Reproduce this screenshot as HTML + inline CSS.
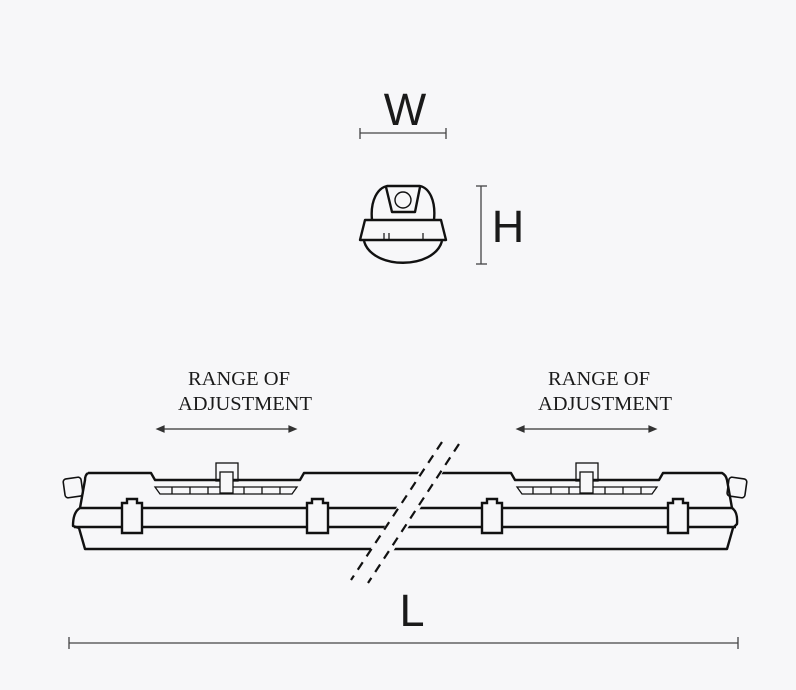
<!DOCTYPE html>
<html><head><style>
html,body{margin:0;padding:0;background:#f7f7f9;}
svg{display:block}
</style></head><body>
<svg width="796" height="690" viewBox="0 0 796 690" xmlns="http://www.w3.org/2000/svg">
<rect width="796" height="690" fill="#f7f7f9"/>
<text x="405" y="125" font-family="Liberation Sans, sans-serif" font-size="45" text-anchor="middle" fill="#1a1a1a">W</text>
<g stroke="#444" stroke-width="1.3">
<line x1="360" y1="133" x2="446" y2="133"/><line x1="360" y1="128" x2="360" y2="139"/><line x1="446" y1="128" x2="446" y2="139"/>
<line x1="481" y1="186" x2="481" y2="264"/><line x1="476" y1="186" x2="487" y2="186"/><line x1="476" y1="264" x2="487" y2="264"/>
<line x1="69" y1="643" x2="738" y2="643"/><line x1="69" y1="637" x2="69" y2="649"/><line x1="738" y1="637" x2="738" y2="649"/>
</g>
<text x="508" y="242" font-family="Liberation Sans, sans-serif" font-size="45" text-anchor="middle" fill="#1a1a1a">H</text>
<text x="412" y="626" font-family="Liberation Sans, sans-serif" font-size="45" text-anchor="middle" fill="#1a1a1a">L</text>
<g fill="none" stroke="#111" stroke-width="2.4" stroke-linejoin="round">
<path d="M372,220 C370,200 378,188 387,186 L420,186 C429,188 436,200 434,220"/>
<path d="M386,187 L392,212 L415,212 L420,187"/>
<circle cx="403" cy="200" r="8" stroke-width="1.4"/>
<path d="M365,220 L441,220 L446,240 L360,240 Z"/>
<path d="M364,241 C372,270 434,270 442,241"/>
</g>
<g stroke="#111" stroke-width="1.2"><line x1="384" y1="233" x2="384" y2="240"/><line x1="389" y1="233" x2="389" y2="240"/><line x1="423" y1="233" x2="423" y2="240"/></g>
<g font-family="Liberation Serif, serif" font-size="20" fill="#1a1a1a" text-anchor="middle">
<text x="239" y="385" textLength="102" lengthAdjust="spacingAndGlyphs">RANGE OF</text><text x="245" y="410" textLength="134" lengthAdjust="spacingAndGlyphs">ADJUSTMENT</text>
<text x="599" y="385" textLength="102" lengthAdjust="spacingAndGlyphs">RANGE OF</text><text x="605" y="410" textLength="134" lengthAdjust="spacingAndGlyphs">ADJUSTMENT</text>
</g>
<g stroke="#333" stroke-width="1.2" fill="#333">
<line x1="160" y1="429" x2="293" y2="429"/><path d="M157,429 l7,-3 v6z"/><path d="M296,429 l-7,-3 v6z"/>
<line x1="520" y1="429" x2="653" y2="429"/><path d="M517,429 l7,-3 v6z"/><path d="M656,429 l-7,-3 v6z"/>
</g>
<g fill="none" stroke="#111" stroke-width="2.4" stroke-linejoin="round">
<path d="M88,473 L151,473 L155,480 L300,480 L304,473 L511,473 L515,480 L659,480 L663,473 L722,473 Q726,475 727,480 L732,508"/>
<path d="M88,473 Q85,475 85,480 L80,508"/>
<path d="M80,508 L732,508 Q738,512 737,524 L733,528 L727,549 L85,549 L79,528 L73,526 Q73,512 80,508 Z" />
<line x1="74" y1="527" x2="736" y2="527"/>
<rect x="64" y="478" width="18" height="19" rx="3" transform="rotate(-8 73 487)" stroke-width="1.6"/>
<rect x="728" y="478" width="18" height="19" rx="3" transform="rotate(8 737 487)" stroke-width="1.6"/>
</g>
<g fill="none" stroke="#111" stroke-width="1.3">
<path d="M155,487 L297,487 L292,494 L160,494 Z"/>
<path d="M172,487v7M190,487v7M208,487v7M244,487v7M262,487v7M280,487v7"/>
<path d="M517,487 L657,487 L652,494 L522,494 Z"/>
<path d="M533,487v7M551,487v7M569,487v7M605,487v7M623,487v7M641,487v7"/>
<rect x="216" y="463" width="22" height="18"/><rect x="220" y="472" width="13" height="21" fill="#f7f7f9"/>
<rect x="576" y="463" width="22" height="18"/><rect x="580" y="472" width="13" height="21" fill="#f7f7f9"/>
</g>
<g fill="#f7f7f9" stroke="#111" stroke-width="2.4">
<path d="M122,533 V503 H127 V499 H137 V503 H142 V533 Z"/>
<path d="M307,533 V503 H312 V499 H323 V503 H328 V533 Z"/>
<path d="M482,533 V503 H487 V499 H497 V503 H502 V533 Z"/>
<path d="M668,533 V503 H673 V499 H683 V503 H688 V533 Z"/>
</g>
<path d="M439,440 L463,440 L370,588 L346,588 Z" fill="#f7f7f9"/>
<g stroke="#111" stroke-width="2.2" stroke-dasharray="9,7">
<line x1="442" y1="442" x2="351" y2="580"/>
<line x1="459" y1="444" x2="368" y2="583"/>
</g>
</svg>
</body></html>
